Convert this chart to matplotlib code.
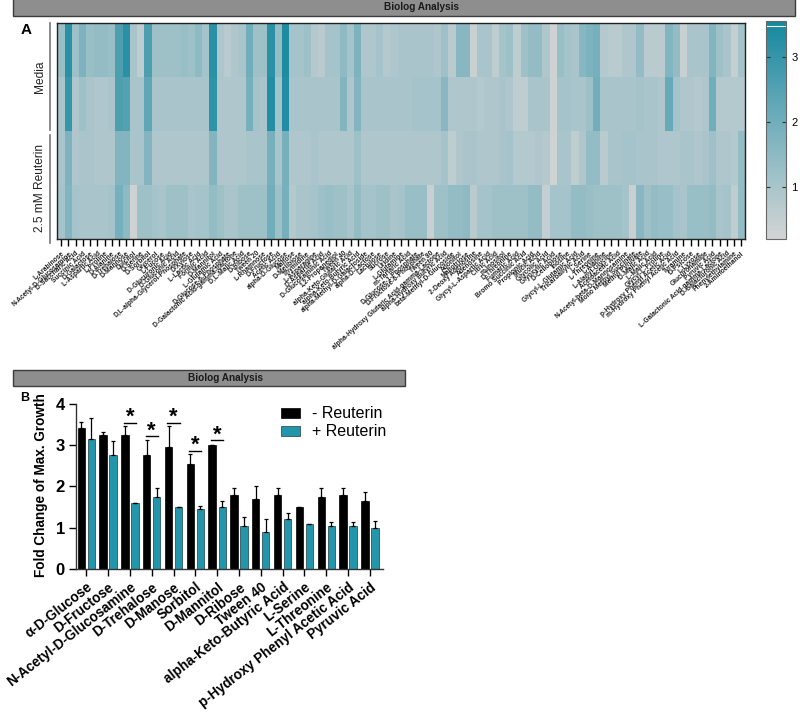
import numpy as np
import matplotlib
matplotlib.use('Agg')
from matplotlib import pyplot as plt
from matplotlib.colors import LinearSegmentedColormap
from matplotlib.patches import Rectangle

plt.rcParams['font.family'] = ['Liberation Sans', 'DejaVu Sans']

W, H = 800, 713

substrates = ['L-Arabinose', 'N-Acetyl-D-Glucosamine', 'D-Saccharic Acid', 'Succinic Acid', 'D-Galactose',
              'L-Aspartic Acid', 'L-Proline', 'D-Alanine', 'D-Trehalose', 'D-Mannose', 'Dulcitol', 'D-Serine',
              'D-Sorbitol', 'Glycerol', 'L-Fucose', 'D-Glucuronic Acid', 'D-Gluconic Acid',
              'D,L-alpha-Glycerol-Phosphate', 'D-Xylose', 'L-Lactic Acid', 'Formic Acid', 'D-Mannitol',
              'L-Glutamic Acid', 'D-Glucose-6-Phosphate', 'D-Galactonic Acid-gamma-Lactone', 'D,L-Malic Acid',
              'D-Ribose', 'Tween 20', 'L-Rhamnose', 'D-Fructose', 'Acetic Acid', 'alpha-D-Glucose', 'Maltose',
              'D-Melibiose', 'Thymidine', 'L-Asparagine', 'D-Aspartic Acid', 'D-Glucosaminic Acid',
              '1,2-Propanediol', 'Tween 40', 'alpha-Keto-Glutaric Acid', 'alpha-Keto-Butyric Acid',
              'alpha-Methyl-D-Galactoside', 'alpha-D-Lactose', 'Lactulose', 'Sucrose', 'Uridine', 'L-Glutamine',
              'm-Tartaric Acid', 'D-Glucose-1-Phosphate', 'D-Fructose-6-Phosphate', 'Tween 80',
              'alpha-Hydroxy Glutaric Acid-gamma-Lactone', 'alpha-Hydroxy Butyric Acid', 'beta-Methyl-D-Glucoside',
              'Adonitol', 'Maltotriose', '2-Deoxy Adenosine', 'Adenosine', 'Glycyl-L-Aspartic Acid', 'Citric Acid',
              'm-Inositol', 'D-Threonine', 'Fumaric Acid', 'Bromo Succinic Acid', 'Propionic Acid', 'Mucic Acid',
              'Glycolic Acid', 'Glyoxylic Acid', 'D-Cellobiose', 'Inosine', 'Glycyl-L-Glutamic Acid',
              'Tricarballylic Acid', 'L-Serine', 'L-Threonine', 'L-Alanine', 'L-Alanyl-Glycine', 'Acetoacetic Acid',
              'N-Acetyl-beta-D-Mannosamine', 'Mono Methyl Succinate', 'Methyl Pyruvate', 'D-Malic Acid',
              'L-Malic Acid', 'Glycyl-L-Proline', 'p-Hydroxy Phenyl Acetic Acid', 'm-Hydroxy Phenyl Acetic Acid',
              'Tyramine', 'D-Psicose', 'L-Lyxose', 'Glucuronamide', 'Pyruvic Acid',
              'L-Galactonic Acid-gamma-Lactone', 'D-Galacturonic Acid', 'Phenylethylamine', '2-Aminoethanol']

media_1 = [1.3, 3.2, 1.2, 1.8, 1.3, 1.4, 1.4, 1.3, 2.6, 3.2,
           1.0, 0.6, 2.6, 1.2, 1.2, 1.2, 1.2, 1.3, 1.2, 1.5,
           1.1, 3.2, 0.9, 0.7, 0.9, 1.0, 2.0, 1.2, 1.2, 3.2,
           1.4, 3.4, 1.1, 1.1, 1.2, 0.8, 0.7, 1.1, 1.1, 1.5,
           1.1, 1.8, 0.9, 0.9, 1.1, 0.8, 0.9, 1.0, 1.0, 1.0,
           1.0, 1.0, 0.9, 1.2, 0.7, 1.6, 1.6, 0.4, 1.0, 1.0,
           0.6, 1.1, 1.2, 0.6, 1.2, 1.4, 1.4, 0.9, 0.3, 1.3,
           1.1, 1.0, 1.6, 1.8, 1.9, 0.8, 0.7, 0.7, 0.9, 0.9,
           1.4, 0.7, 0.7, 0.7, 1.7, 1.4, 0.4, 1.0, 1.0, 1.0,
           1.7, 1.2, 1.0, 0.5, 1.1]
media_2 = [1.0, 3.0, 0.9, 1.2, 1.0, 0.9, 0.9, 1.0, 2.6, 2.5,
           1.0, 1.0, 2.3, 1.0, 1.0, 1.0, 1.0, 1.0, 1.0, 1.0,
           1.0, 3.1, 0.9, 0.9, 0.9, 0.9, 1.9, 1.1, 1.0, 3.3,
           1.1, 3.3, 1.0, 1.0, 1.0, 1.0, 1.0, 1.0, 1.0, 1.7,
           0.9, 1.7, 1.0, 1.0, 1.0, 1.0, 1.0, 1.0, 1.0, 1.1,
           1.1, 1.1, 1.1, 1.6, 0.9, 0.9, 0.9, 0.9, 0.8, 0.9,
           0.9, 1.0, 0.9, 0.6, 0.6, 1.0, 1.0, 1.0, 0.3, 1.1,
           1.1, 1.0, 1.0, 1.2, 2.0, 1.0, 1.0, 1.0, 1.0, 1.0,
           1.1, 1.0, 1.0, 0.9, 2.2, 1.1, 0.9, 0.9, 0.8, 0.9,
           2.0, 0.8, 0.8, 0.8, 0.8]
reut_1 = [1.0, 1.8, 0.9, 1.0, 1.0, 0.9, 0.9, 0.9, 1.7, 1.7,
          1.0, 1.0, 1.7, 0.9, 0.9, 0.9, 0.9, 0.9, 0.9, 0.9,
          0.9, 1.7, 0.9, 0.9, 0.9, 0.9, 1.0, 1.0, 1.0, 1.9,
          1.0, 1.9, 0.9, 0.9, 0.9, 1.0, 0.9, 0.9, 0.9, 0.9,
          0.9, 1.2, 0.9, 0.9, 0.9, 0.9, 0.9, 0.9, 0.9, 0.9,
          0.9, 0.9, 0.9, 1.1, 0.6, 0.9, 1.0, 1.0, 0.9, 0.9,
          0.9, 1.0, 1.1, 0.8, 0.8, 0.8, 0.9, 0.8, 0.3, 1.0,
          1.0, 0.6, 0.9, 1.4, 1.4, 0.7, 1.0, 1.0, 1.1, 1.1,
          1.0, 1.0, 1.0, 0.9, 0.9, 0.9, 1.0, 1.0, 0.9, 1.0,
          1.2, 0.9, 0.9, 0.8, 1.4]
reut_2 = [1.1, 1.7, 1.1, 1.0, 1.0, 1.0, 1.0, 1.1, 1.9, 1.5,
          0.3, 1.2, 1.2, 1.1, 1.0, 1.2, 1.2, 1.2, 1.0, 1.1,
          1.1, 1.4, 1.2, 1.0, 1.0, 1.2, 1.2, 1.2, 1.2, 2.0,
          1.2, 1.9, 0.8, 1.0, 1.0, 1.1, 1.2, 1.3, 1.2, 1.2,
          1.0, 1.4, 1.1, 1.1, 1.2, 1.2, 1.0, 1.1, 1.3, 1.3,
          1.3, 0.4, 1.2, 1.2, 1.4, 1.4, 1.5, 0.7, 1.1, 1.1,
          1.2, 1.2, 1.2, 1.2, 1.2, 1.4, 1.4, 0.5, 1.1, 1.1,
          1.1, 1.4, 1.4, 1.3, 1.2, 1.2, 1.2, 1.2, 1.1, 0.4,
          1.6, 1.2, 1.4, 1.3, 1.3, 1.1, 1.0, 1.3, 1.3, 1.3,
          1.4, 1.0, 1.1, 0.6, 1.4]

carbons = ['\u03b1-D-Glucose', 'D-Fructose', 'N-Acetyl-D-Glucosamine', 'D-Trehalose', 'D-Manose', 'Sorbitol',
           'D-Mannitol', 'D-Ribose', 'Tween 40', 'alpha-Keto-Butyric Acid', 'L-Serine', 'L-Threonine',
           'p-Hydroxy Phenyl Acetic Acid', 'Pyruvic Acid']
no_reuterin = [3.4, 3.25, 3.25, 2.75, 2.95, 2.55, 3.0, 1.8, 1.7, 1.8, 1.5, 1.75, 1.8, 1.65]
no_reuterin_err = [0.15, 0.07, 0.22, 0.37, 0.5, 0.23, 0.0, 0.15, 0.3, 0.15, 0.0, 0.22, 0.15, 0.22]
with_reuterin = [3.15, 2.75, 1.6, 1.75, 1.5, 1.45, 1.5, 1.05, 0.9, 1.2, 1.1, 1.05, 1.05, 1.0]
with_reuterin_err = [0.5, 0.35, 0.0, 0.22, 0.0, 0.07, 0.15, 0.22, 0.3, 0.15, 0.0, 0.08, 0.08, 0.15]
sig_groups = [2, 3, 4, 5, 6]
sig_heights = [3.54, 3.22, 3.54, 2.86, 3.11]


# pixel box (top-left origin) -> figure fraction rectangle
def box(x0, y0, x1, y1):
  return [x0 / W, 1 - y1 / H, (x1 - x0) / W, (y1 - y0) / H]


def banner(fig, x0, y0, x1, y1, xtext, size):
  fig.add_artist(Rectangle((x0 / W, 1 - y1 / H), (x1 - x0) / W, (y1 - y0) / H, transform=fig.transFigure,
                           facecolor='#8e8e8e', edgecolor='#3c3c3c', lw=1))
  fig.text(xtext / W, 1 - (y0 + y1) / 2 / H, 'Biolog Analysis', ha='center', va='center',
           fontsize=size, fontweight='bold', color='#1a1a1a')


fig = plt.figure(figsize=(8, 7.13), dpi=100)
banner(fig, 13, -2, 795, 16, 421, 7.2)
banner(fig, 13, 370, 405, 386, 226, 7.2)

# heatmap
cmap = LinearSegmentedColormap.from_list('biolog', [(0, '#d3d4d4'), (0.24, '#a9c5cb'), (0.55, '#6fadbb'), (1, '#14889e')])
matrix = np.array([media_1, media_2, reut_1, reut_2])
ax = fig.add_axes(box(57.5, 23, 745, 239))
mesh = ax.pcolormesh(np.arange(96), np.arange(5), matrix, cmap=cmap, vmin=0.2, vmax=3.55)
ax.invert_yaxis()
ax.set_yticks([])
ax.set_xticks(np.arange(95) + 0.5)
ax.set_xticklabels(substrates, rotation=42, ha='right', va='top', rotation_mode='anchor',
                   fontsize=4.8, fontweight='bold', color='#222222')
ax.tick_params(axis='x', length=5, width=1, pad=3, color='black')
for s in ax.spines.values():
  s.set_linewidth(1)
  s.set_color('#222222')

fig.text(26 / W, 1 - 30 / H, 'A', fontsize=11, fontweight='bold', ha='center', va='center')
fig.text(40 / W, 1 - 77 / H, 'Media', rotation=90, fontsize=8.6, ha='center', va='center', color='#222222')
fig.text(40 / W, 1 - 188 / H, '2.5 mM Reuterin', rotation=90, fontsize=8.6, ha='center', va='center', color='#222222')
for y0, y1 in [(23, 130), (135, 243)]:
  fig.add_artist(plt.Line2D([50 / W, 50 / W], [1 - y0 / H, 1 - y1 / H], color='#777777', lw=1.2))

cax = fig.add_axes(box(765.5, 21, 786, 239))
cb = fig.colorbar(mesh, cax=cax)
cb.set_ticks([1, 2, 3])
cax.tick_params(direction='in', left=True, right=True, length=3, width=0.8, color='#333333', labelsize=8, pad=4)
cax.axhline(3.47, color='white', lw=0.8)
cb.outline.set_edgecolor('#666666')
cb.outline.set_linewidth(0.8)

# bars
fig.text(25 / W, 1 - 398 / H, 'B', fontsize=9, fontweight='bold', ha='center', va='center')
ax2 = fig.add_axes(box(76, 403.7, 383, 569))
x = np.arange(len(carbons))
offset, bw = 0.23, 0.335
ax2.bar(x - offset, no_reuterin, bw, color='black', edgecolor='black', lw=0.5, label='- Reuterin',
        yerr=[np.zeros(14), no_reuterin_err], error_kw=dict(ecolor='black', elinewidth=0.9, capsize=1.5, capthick=0.9))
ax2.bar(x + offset, with_reuterin, bw, color='#2396ab', edgecolor='#1d3d44', lw=0.5, label='+ Reuterin',
        yerr=[np.zeros(14), with_reuterin_err], error_kw=dict(ecolor='black', elinewidth=0.9, capsize=1.5, capthick=0.9))
for g, h in zip(sig_groups, sig_heights):
  ax2.plot([g - 0.28, g + 0.28], [h, h], color='black', lw=1, clip_on=False)
  ax2.text(g, h - 0.13, '*', ha='center', va='bottom', fontsize=16, fontweight='bold')
ax2.set_xlim(-0.47, 13.6)
ax2.set_ylim(0, 4)
ax2.set_yticks([0, 1, 2, 3, 4])
ax2.set_xticks(x)
ax2.set_xticklabels(carbons, rotation=38, ha='right', va='top', rotation_mode='anchor', fontsize=9.8, fontweight='bold')
ax2.tick_params(axis='y', labelsize=12, width=1, length=5, pad=3)
ax2.tick_params(axis='x', width=1, length=5, pad=3)
for t in ax2.get_yticklabels():
  t.set_fontweight('bold')
for k in ['top', 'right']:
  ax2.spines[k].set_visible(False)
for k in ['left', 'bottom']:
  ax2.spines[k].set_linewidth(1)
  ax2.spines[k].set_color('#333333')
fig.text(41 / W, 1 - 485 / H, 'Fold Change of Max. Growth', rotation=90, fontsize=9.8, fontweight='bold',
         ha='center', va='center')
ax2.legend(loc='upper left', bbox_to_anchor=((270 - 76) / 307, 1.052), frameon=False, fontsize=11.5,
           handlelength=1.2, handleheight=0.6, handletextpad=0.7, labelspacing=0.2, borderpad=0.2)

fig.savefig('out.png', dpi=100)
